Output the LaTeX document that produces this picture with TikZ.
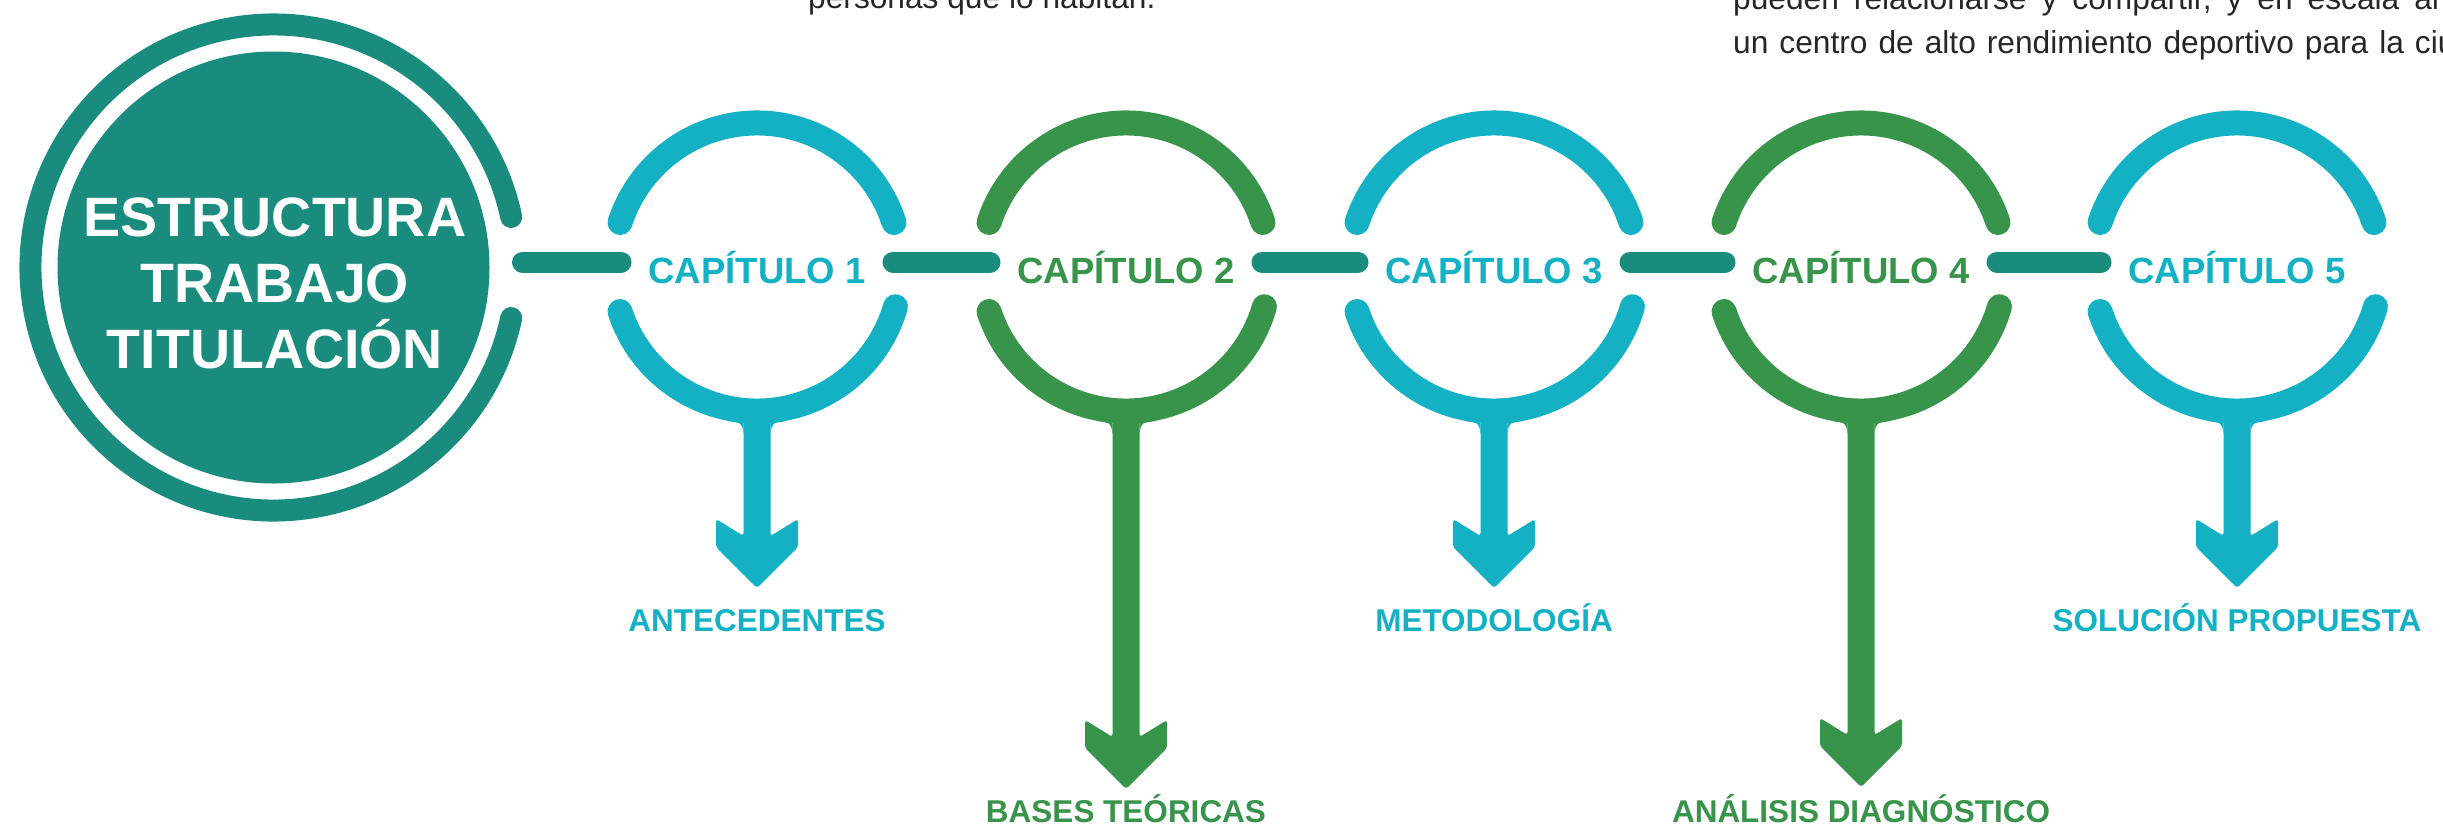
\documentclass[tikz,border=0pt]{standalone}
\usepackage{fontspec}
\setmainfont{Liberation Sans}
\usetikzlibrary{calc}
\definecolor{teal1}{HTML}{1A8C7E}
\definecolor{cyan1}{HTML}{14B1C4}
\definecolor{green1}{HTML}{38944A}
\definecolor{bodygray}{HTML}{262626}

% #1 name, #2 centre x, #3 colour, #4 number, #5 tip y, #6 label, #7 label baseline y
\newcommand{\chapunit}[7]{%
  \coordinate (#1c) at (#2,267);
  \coordinate (#1w) at (#2-136,262);
  \coordinate (#1e) at (#2+136,262);
  \draw[ringarc,#3] ($(#1c)+(18:144pt)$) arc[start angle=18,end angle=162,radius=144pt];
  \draw[ringarc,#3] ($(#1c)+(198:144pt)$) arc[start angle=198,end angle=344,radius=144pt];
  \node[chaplabel,text=#3] (#1) at (#2,283) {CAPÍTULO #4};
  \coordinate (#1tip) at (#2,#5);
  \fill[#3,rounded corners=3pt] (#1tip) -- (#2-41,#5-41) -- (#2-41,#5-69) -- (#2-13.5,#5-52)
     -- (#2-13.5,405) -- (#2+13.5,405) -- (#2+13.5,#5-52) -- (#2+41,#5-69) -- (#2+41,#5-41) -- cycle;
  \fill[#3] (#2-29,421) .. controls (#2-15,423) .. (#2-13.5,434) -- (#2-13.5,412) -- cycle;
  \fill[#3] (#2+29,421) .. controls (#2+15,423) .. (#2+13.5,434) -- (#2+13.5,412) -- cycle;
  \node[sublabel,text=#3] (#1lab) at (#2,#7) {#6};
}

\begin{document}
\begin{tikzpicture}[x=1pt,y=-1pt,
  ringarc/.style={line width=25pt,line cap=round},
  conn/.style={teal1,line width=21pt,line cap=round},
  chaplabel/.style={font=\bfseries\fontsize{36.5pt}{40pt}\selectfont,inner sep=0pt,anchor=base},
  sublabel/.style={font=\bfseries\fontsize{31.5pt}{36pt}\selectfont,inner sep=0pt,anchor=base},
  titletext/.style={text=white,font=\bfseries\fontsize{55.5pt}{60pt}\selectfont,inner sep=0pt,anchor=base},
  bodytext/.style={text=bodygray,font=\fontsize{31.7pt}{36pt}\selectfont,inner sep=0pt,anchor=base west},
]
\useasboundingbox (0,0) rectangle (2443,828);
\clip (0,0) rectangle (2443,828);

% running text of the page
\node[bodytext] (p1) at (808,8) {personas que lo habitan.};
\node[bodytext] (p2) at (1733,9) {\spaceskip=15pt\relax pueden relacionarse y compartir, y en escala arquitectónica,};
\node[bodytext] (p3) at (1733,53) {\spaceskip=11pt\relax un centro de alto rendimiento deportivo para la ciudad};

% title circle
\coordinate (tc) at (273.5,267.5);
\fill[teal1] (tc) circle[radius=216pt];
\draw[teal1,line width=22pt,line cap=round] ($(tc)+(12:243pt)$) arc[start angle=12,end angle=348,radius=243pt];
\node[titletext] (t1) at (275,236) {ESTRUCTURA};
\node[titletext] (t2) at (275,302) {TRABAJO};
\node[titletext] (t3) at (275,368) {TITULACIÓN};
\coordinate (te) at (522.5,262);

% chapters
\chapunit{capA}{757}{cyan1}{1}{588}{ANTECEDENTES}{631}
\chapunit{capB}{1126}{green1}{2}{789}{BASES TEÓRICAS}{822}
\chapunit{capC}{1494}{cyan1}{3}{588}{METODOLOGÍA}{631}
\chapunit{capD}{1861}{green1}{4}{787}{ANÁLISIS DIAGNÓSTICO}{822}
\chapunit{capE}{2237}{cyan1}{5}{588}{SOLUCIÓN PROPUESTA}{631}

% connectors
\draw[conn] (te) -- (capAw);
\draw[conn] (capAe) -- (capBw);
\draw[conn] (capBe) -- (capCw);
\draw[conn] (capCe) -- (capDw);
\draw[conn] (capDe) -- (capEw);
\end{tikzpicture}
\end{document}
